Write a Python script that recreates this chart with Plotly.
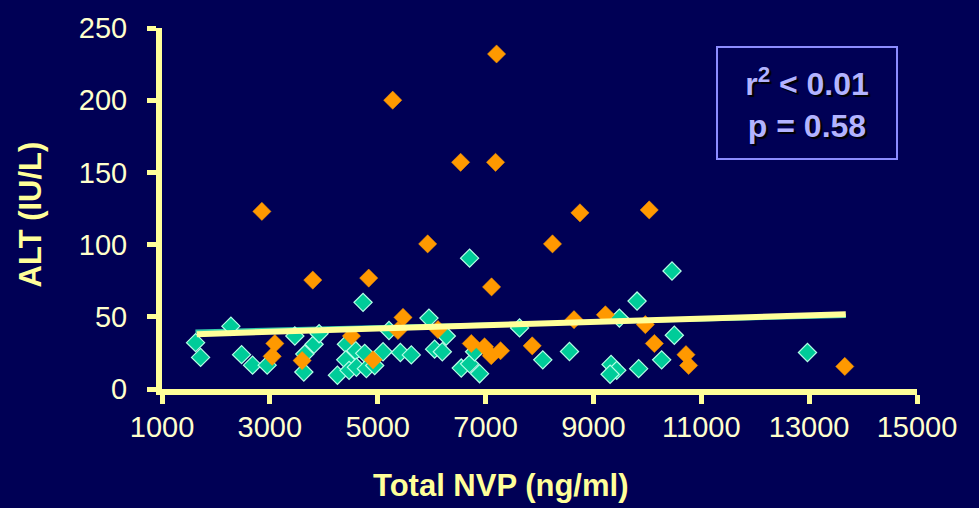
import plotly.graph_objects as go

# Data
teal_x = [1623, 1716, 2278, 2476, 2679, 2951, 3463, 3648, 3630, 3820, 3913, 4253, 4420, 4407,
          4469, 4593, 4605, 4759, 4790, 4728, 4944, 5099, 5209, 5420, 5623, 5950, 6055, 6198,
          6272, 6704, 6549, 6704, 6796, 6889, 7630, 8061, 8556, 10457, 9809, 9481, 10500,
          10265, 9327, 9432, 9309, 9839, 12969]
teal_y = [32.1, 21.9, 43.5, 23.8, 16.5, 16.5, 36.7, 24.2, 11.8, 31.0, 38.3, 9.5, 31.0, 20.2,
          12.9, 26.5, 15.1, 24.7, 14.1, 60, 16.3, 25.8, 40.5, 25.3, 23.6, 49.1, 27.6, 25.8,
          36.7, 90.6, 14.5, 17.4, 25.8, 10.6, 42.3, 20.2, 26, 81.7, 60.9, 49.1, 37.2,
          20.2, 17, 12.9, 10.2, 14.1, 25.3]

orange_x = [7204, 5278, 6537, 7185, 2852, 8750, 10035, 5926, 8241, 3796, 4833, 7111, 8640,
            3093, 3043, 3598, 4513, 4913, 5469, 5376, 6117, 6735, 6981, 7105, 7278, 7865,
            9222, 9963, 10130, 10716, 10765, 13661]
orange_y = [232, 200, 157, 157, 123, 122, 124, 100.5, 100.5, 75.4, 76.8, 70.7, 48,
            31.5, 22.6, 19.7, 36.7, 20.2, 49.6, 40.5, 41.2, 31.5, 29.2, 23.1, 26.5, 29.9,
            51.4, 44.6, 31.5, 23.8, 16.3, 15.6]

fit_x = [1645, 13680]
fit_y = [38, 51.8]
teal_fit_x = [1620, 13680]
teal_fit_y = [39.8, 50.6]

x_ticks = [1000, 3000, 5000, 7000, 9000, 11000, 13000, 15000]
y_ticks = [0, 50, 100, 150, 200, 250]

BG = "#000055"
AXIS = "#FFFF99"
FONT = "Liberation Sans, Arial, sans-serif"

fig = go.Figure()
fig.add_trace(go.Scatter(x=teal_fit_x, y=teal_fit_y, mode="lines",
                         line=dict(color="#33CCAA", width=4), hoverinfo="skip"))
fig.add_trace(go.Scatter(x=teal_x, y=teal_y, mode="markers",
                         marker=dict(symbol="diamond", size=14, color="#00CC99",
                                     line=dict(color="#B3FFE6", width=1.2))))
fig.add_trace(go.Scatter(x=orange_x, y=orange_y, mode="markers",
                         marker=dict(symbol="diamond", size=14, color="#FF9900",
                                     line=dict(color="#FF9900", width=0.5))))
fig.add_trace(go.Scatter(x=fit_x, y=fit_y, mode="lines",
                         line=dict(color=AXIS, width=6), hoverinfo="skip"))

fig.update_layout(
    width=979, height=508,
    margin=dict(l=162, r=62, t=21, b=119),
    paper_bgcolor=BG, plot_bgcolor=BG,
    showlegend=False,
    font=dict(family=FONT, color="#FFFFCC", size=29),
)
fig.update_xaxes(range=[1000, 15000], tickvals=x_ticks, ticktext=[str(v) for v in x_ticks],
                 showgrid=False, zeroline=False, showline=True, linecolor=AXIS, linewidth=6,
                 ticks="outside", ticklen=9, tickwidth=5, tickcolor=AXIS,
                 tickfont=dict(size=29, color="#FFFFCC", family=FONT), ticklabelstandoff=-2)
fig.update_yaxes(range=[0, 250], tickvals=y_ticks, ticktext=[str(v) for v in y_ticks],
                 showgrid=False, zeroline=False, showline=True, linecolor=AXIS, linewidth=6,
                 ticks="outside", ticklen=9, tickwidth=5, tickcolor=AXIS,
                 tickfont=dict(size=29, color="#FFFFCC", family=FONT), ticklabelstandoff=14)

fig.add_annotation(xref="paper", yref="paper", x=(30 - 162) / 755, y=(389 - 211) / 368,
                   text="<b>ALT (IU/L)</b>", showarrow=False, textangle=-90,
                   font=dict(size=31, color=AXIS, family=FONT), xanchor="center", yanchor="middle")
fig.add_annotation(xref="paper", yref="paper", x=(500 - 162) / 755, y=(389 - 487) / 368,
                   text="<b>Total NVP (ng/ml)</b>", showarrow=False,
                   font=dict(size=31, color=AXIS, family=FONT), xanchor="center", yanchor="middle")
fig.add_annotation(xref="paper", yref="paper", x=(807 - 162) / 755, y=(389 - 97) / 368,
                   text="<b>r<sup>2</sup> &lt; 0.01<br>p = 0.58</b>", showarrow=False,
                   font=dict(size=32, color="#B3B3FF", family=FONT, shadow="2px 2px 1px #000000"),
                   width=176, height=108, bordercolor="#8C8CFF", borderwidth=2,
                   bgcolor=BG, xanchor="center", yanchor="middle", align="center")

fig.write_html("out.html", config={"displayModeBar": False},
               post_script="document.body.style.margin='0px';document.body.style.background='#000055';")
